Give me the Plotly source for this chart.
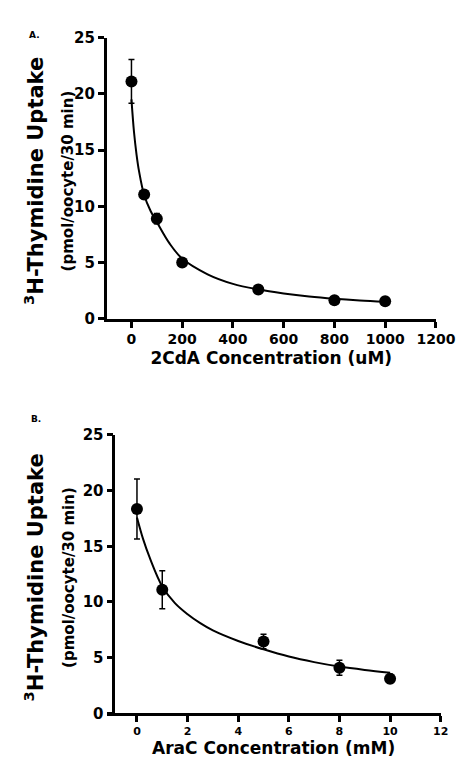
import plotly.graph_objects as go

# Panel A data (2CdA)
a_x = [0, 50, 100, 200, 500, 800, 1000]
a_y = [21.1, 11.05, 8.9, 5.0, 2.6, 1.65, 1.55]
a_err = [1.95, 0.35, 0.45, 0.2, 0.15, 0.1, 0.1]
a_curve_x = [0, 10, 20, 30, 50, 75, 100, 150, 200, 300, 400, 500, 600, 700, 800, 900, 1000]
a_curve_y = [19.5, 16.6, 14.6, 13.1, 11.0, 9.6, 8.6, 6.7, 5.35, 3.95, 3.1, 2.6, 2.25, 1.98, 1.78, 1.63, 1.52]

# Panel B data (AraC)
b_x = [0, 1, 5, 8, 10]
b_y = [18.35, 11.1, 6.45, 4.1, 3.1]
b_err = [2.7, 1.7, 0.65, 0.67, 0.4]
b_curve_x = [0, 0.25, 0.5, 1, 1.5, 2, 2.5, 3, 4, 5, 6, 7, 8, 9, 10]
b_curve_y = [17.6, 15.6, 14.0, 11.4, 9.9, 8.9, 8.1, 7.45, 6.5, 5.75, 5.1, 4.6, 4.2, 3.9, 3.65]

a_xticks = [0, 200, 400, 600, 800, 1000, 1200]
b_xticks = [0, 2, 4, 6, 8, 10, 12]
y_ticks = [0, 5, 10, 15, 20, 25]

W, H = 468, 770
FONT = "DejaVu Sans"


def f(size):
    return dict(family=FONT, size=size, color="black", weight="bold")


fig = go.Figure()

for xs, ys, errs, cx, cy, ax in [(a_x, a_y, a_err, a_curve_x, a_curve_y, ""),
                                 (b_x, b_y, b_err, b_curve_x, b_curve_y, "2")]:
    fig.add_trace(go.Scatter(x=cx, y=cy, mode="lines", line=dict(color="black", width=2, shape="spline"),
                             xaxis="x" + ax, yaxis="y" + ax, showlegend=False, hoverinfo="skip"))
    fig.add_trace(go.Scatter(x=xs, y=ys, mode="markers",
                             marker=dict(color="black", size=12),
                             error_y=dict(type="data", array=errs, color="black", thickness=1.5, width=3),
                             xaxis="x" + ax, yaxis="y" + ax, showlegend=False))

axis_common = dict(showgrid=False, zeroline=False, showline=True, linecolor="black", linewidth=2.5,
                   ticks="outside", ticklen=6, tickwidth=2.5, tickcolor="black")

fig.update_layout(
    width=W, height=H, margin=dict(l=0, r=0, t=0, b=0),
    plot_bgcolor="white", paper_bgcolor="white",
    xaxis=dict(domain=[103 / W, 447 / W], range=[-98, 1200], tickvals=a_xticks, anchor="y",
               tickfont=f(14),
               title=dict(text="2CdA Concentration (uM)", font=f(17), standoff=6),
               **axis_common),
    yaxis=dict(domain=[1 - 309 / H, 1 - 21 / H], range=[0, 25], tickvals=y_ticks, anchor="x",
               tickfont=f(15), **axis_common),
    xaxis2=dict(domain=[103 / W, 452 / W], range=[-1.2, 12], tickvals=b_xticks, anchor="y2",
                tickfont=f(11),
                title=dict(text="AraC Concentration (mM)", font=f(17), standoff=4),
                **axis_common),
    yaxis2=dict(domain=[1 - 713 / H, 1 - 428 / H], range=[0, 25], tickvals=y_ticks, anchor="free",
                position=110 / W, tickfont=f(15), **axis_common),
)

ylab_big = "<sup>3</sup>H-Thymidine Uptake"
ylab_small = "(pmol/oocyte/30 min)"
for yc in [1 - 168 / H, 1 - 574 / H]:
    fig.add_annotation(x=27 / W, y=yc, xref="paper", yref="paper", text=ylab_big, textangle=-90,
                       xanchor="center", yanchor="middle",
                       showarrow=False, font=f(21))
    fig.add_annotation(x=63 / W, y=yc, xref="paper", yref="paper", text=ylab_small, textangle=-90,
                       xanchor="center", yanchor="middle",
                       showarrow=False, font=f(15))

fig.add_annotation(x=28 / W, y=1 - 18 / H, xref="paper", yref="paper", text="A.", showarrow=False,
                   xanchor="center", yanchor="middle", font=f(9))
fig.add_annotation(x=29 / W, y=1 - 412 / H, xref="paper", yref="paper", text="B.", showarrow=False,
                   xanchor="center", yanchor="middle", font=f(9))

fig.write_html("out.html")
